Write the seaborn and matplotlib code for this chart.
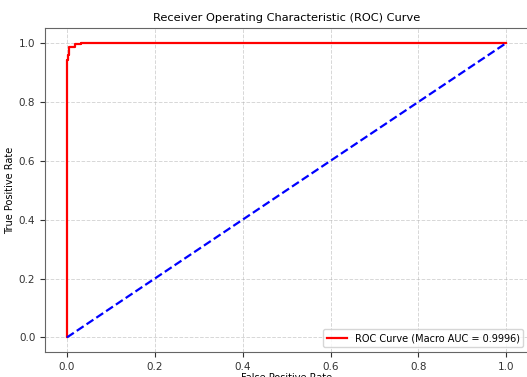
import matplotlib
matplotlib.use("Agg")
import matplotlib.pyplot as plt
import seaborn as sns
import pandas as pd

# ROC operating points (false positive rate, true positive rate)
fpr = [0.0, 0.0, 0.002, 0.002, 0.005, 0.005, 0.018, 0.018, 0.031, 0.031, 1.0]
tpr = [0.0, 0.942, 0.942, 0.959, 0.959, 0.987, 0.987, 0.995, 0.995, 1.0, 1.0]
macro_auc = 0.9996

chance_x = [0.0, 1.0]
chance_y = [0.0, 1.0]

xticks = [0.0, 0.2, 0.4, 0.6, 0.8, 1.0]
yticks = [0.0, 0.2, 0.4, 0.6, 0.8, 1.0]

roc_df = pd.DataFrame({"fpr": fpr, "tpr": tpr})
chance_df = pd.DataFrame({"fpr": chance_x, "tpr": chance_y})

fig = plt.figure(figsize=(5.27, 3.77), dpi=100)
ax = fig.add_axes([0.0854, 0.066, 0.917, 0.859])

sns.lineplot(data=roc_df, x="fpr", y="tpr", estimator=None, sort=False,
             color="red", linewidth=1.6,
             label=f"ROC Curve (Macro AUC = {macro_auc:.4f})", ax=ax)
sns.lineplot(data=chance_df, x="fpr", y="tpr", estimator=None, sort=False,
             color="blue", linewidth=1.6, linestyle="--", ax=ax)

ax.set_xlim(-0.05, 1.05)
ax.set_ylim(-0.05, 1.05)
ax.set_xticks(xticks)
ax.set_yticks(yticks)
ax.tick_params(labelsize=7.5, colors="#333333", length=3.5)
ax.set_xlabel("False Positive Rate", fontsize=7, labelpad=1)
ax.set_ylabel("True Positive Rate", fontsize=7, labelpad=3)
ax.set_title("Receiver Operating Characteristic (ROC) Curve", fontsize=8.2, pad=5)
ax.grid(True, linestyle="--", alpha=0.5, linewidth=0.7)
for s in ax.spines.values():
    s.set_color("#666666")
ax.legend(loc="lower right", fontsize=7, handlelength=2.0)

fig.savefig("out.png", dpi=100)
